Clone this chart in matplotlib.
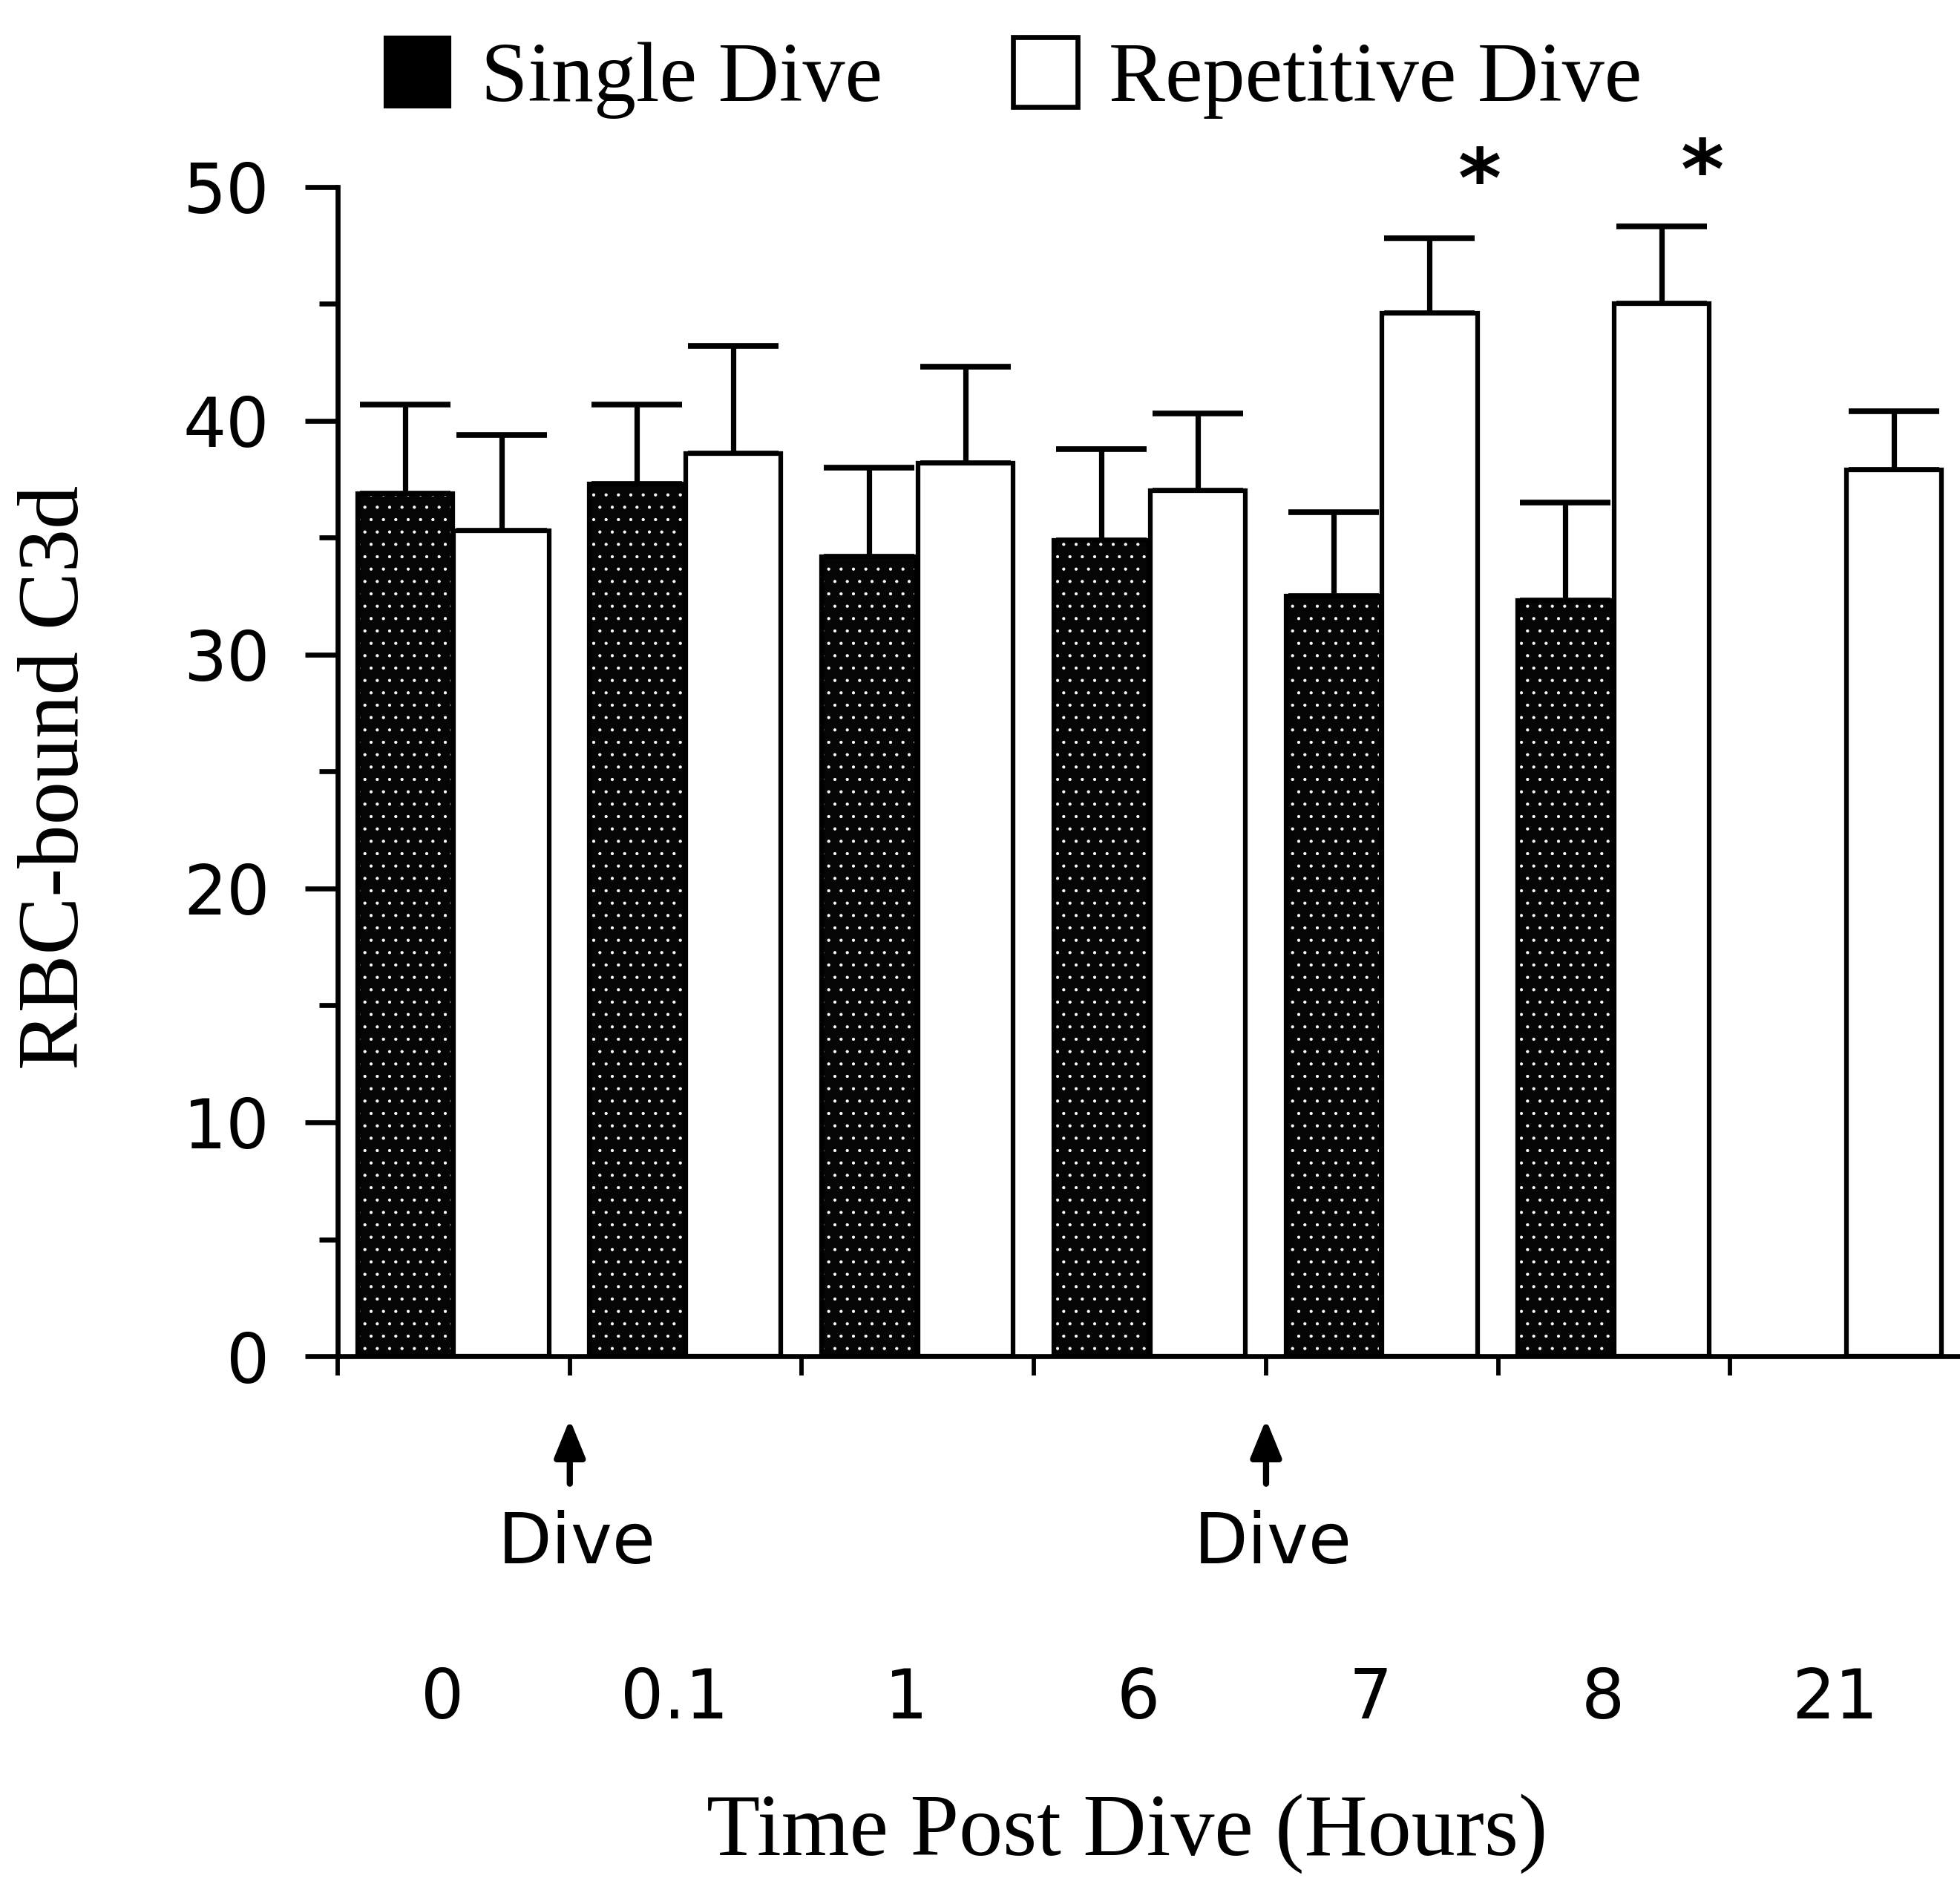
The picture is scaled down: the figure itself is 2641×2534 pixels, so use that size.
import matplotlib
matplotlib.use("Agg")
import matplotlib.pyplot as plt
from matplotlib.patches import Patch
import numpy as np

# values
times = ["0", "0.1", "1", "6", "7", "8", "21"]
single_mean = [36.9, 37.3, 34.2, 34.9, 32.5, 32.3, np.nan]
single_err = [3.8, 3.4, 3.8, 3.9, 3.6, 4.2, np.nan]
repeat_mean = [35.3, 38.6, 38.2, 37.0, 44.6, 45.0, 37.9]
repeat_err = [4.1, 4.6, 4.1, 3.3, 3.2, 3.3, 2.5]
star_pos = [(4.92, 50.1), (5.88, 50.5)]
dive_at = [1.0, 4.0]

SERIF = "Liberation Serif"
SANS = "DejaVu Sans"

plt.rcParams["hatch.linewidth"] = 0.6

fig = plt.figure(figsize=(26.41, 25.34), dpi=100)
ax = fig.add_axes([0.1723, 0.2790, 0.8277, 0.6216])

x = np.arange(len(times))
w = 0.41
xs = x + 0.29
xr = x + 0.705

ax.bar(xs, single_mean, width=w, color="#050505", edgecolor="white",
       hatch=".", linewidth=0, zorder=2)
ax.bar(xs, single_mean, width=w, facecolor="none", edgecolor="black",
       linewidth=4.5, zorder=3)
ax.bar(xr, repeat_mean, width=w, color="white", edgecolor="black",
       linewidth=4.5, zorder=3)

ekw = dict(fmt="none", ecolor="black", elinewidth=5.2, capsize=44,
           capthick=5.5, zorder=1)
ax.errorbar(xs, single_mean, yerr=[np.zeros(len(x)), single_err], **ekw)
ax.errorbar(xr, repeat_mean, yerr=[np.zeros(len(x)), repeat_err], **ekw)

for sx, sy in star_pos:
    ax.text(sx, sy, "*", fontsize=80, fontweight="bold", family=SANS,
            ha="center", va="center", clip_on=False)

ax.set_xlim(0, 6.99)
ax.set_ylim(0, 50)
for s in ["top", "right"]:
    ax.spines[s].set_visible(False)
for s in ["left", "bottom"]:
    ax.spines[s].set_linewidth(4.8)

ax.set_yticks(np.arange(0, 51, 10))
ax.set_yticks(np.arange(5, 50, 10), minor=True)
ax.tick_params(axis="y", which="major", length=32, width=4.8, pad=34,
               labelsize=66)
ax.tick_params(axis="y", which="minor", length=18, width=4.8)
for t in ax.get_yticklabels():
    t.set_family(SANS)

ax.set_xticks(x)
ax.set_xticklabels([])
ax.tick_params(axis="x", which="major", length=19, width=4.2)
ax.set_xticks(x + 0.45, minor=True)
ax.set_xticklabels(times, minor=True, fontsize=66, family=SANS)
ax.tick_params(axis="x", which="minor", length=0, pad=300)

for dx in dive_at:
    ax.annotate("", xy=(dx, -0.054), xytext=(dx, -0.109),
                xycoords=("data", "axes fraction"),
                textcoords=("data", "axes fraction"),
                arrowprops=dict(arrowstyle="-|>,head_length=1.1,head_width=0.45",
                                mutation_scale=28, color="black", lw=6,
                                shrinkA=0, shrinkB=0))
    ax.text(dx + 0.03, -0.1605, "Dive", fontsize=68, family=SANS,
            ha="center", va="center",
            transform=ax.get_xaxis_transform())

ax.set_ylabel("RBC-bound C3d", fontsize=84, family=SERIF, va="center")
ax.yaxis.set_label_coords(-0.173, 0.495)
ax.set_xlabel("Time Post Dive (Hours)", fontsize=85, family=SERIF)
ax.xaxis.set_label_coords(0.4867, -0.374)

handles = [Patch(facecolor="black", edgecolor="black", linewidth=3),
           Patch(facecolor="white", edgecolor="black", linewidth=4.8)]
fig.legend(handles, ["Single Dive", "Repetitive Dive"], ncol=2,
           loc="center left", bbox_to_anchor=(0.1965, 0.9586),
           frameon=False, borderpad=0, borderaxespad=0,
           handlelength=0.76, handleheight=0.9, handletextpad=0.37,
           columnspacing=1.55, prop={"family": SERIF, "size": 82})

fig.savefig("out.png", dpi=100)
